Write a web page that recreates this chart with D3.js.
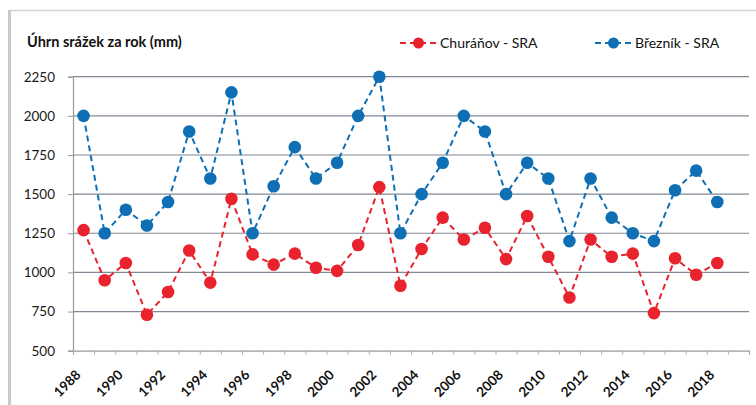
<!DOCTYPE html>
<html><head><meta charset="utf-8">
<script src="https://cdn.jsdelivr.net/npm/d3@7/dist/d3.min.js"></script>
<style>
html,body{margin:0;padding:0;background:#fff;}
svg{display:block;font-family:Lato,"Open Sans",sans-serif;}
</style></head>
<body>
<svg id="chart" width="756" height="405"></svg>
<script>
const years = d3.range(1988, 2019);
const churanov = [1270, 950, 1060, 730, 875, 1140, 935, 1470, 1115, 1050, 1120, 1030, 1010, 1175, 1545, 915, 1150, 1350, 1210, 1285, 1085, 1360, 1100, 840, 1210, 1100, 1120, 740, 1090, 985, 1060];
const breznik = [2000, 1250, 1400, 1300, 1450, 1900, 1600, 2150, 1250, 1550, 1800, 1600, 1700, 2000, 2250, 1250, 1500, 1700, 2000, 1900, 1500, 1700, 1600, 1200, 1600, 1350, 1250, 1200, 1525, 1650, 1450];
const yTicks = [500, 750, 1000, 1250, 1500, 1750, 2000, 2250];
const xLabels = d3.range(1988, 2019, 2);
const seriesNames = ["Churáňov - SRA", "Březník - SRA"];
const title = "Úhrn srážek za rok (mm)";

const svg = d3.select("#chart");
const C = {red: "#e8232e", blue: "#0f6fb5", grid: "#7f8893", axis: "#9a9a9a"};

// outer frame
svg.append("line").attr("x1", 10).attr("x2", 756).attr("y1", 10.5).attr("y2", 10.5).attr("stroke", "#d4d4d4").attr("stroke-width", 1.5);
svg.append("rect").attr("x", 8).attr("y", 10).attr("width", 3).attr("height", 395).attr("fill", "#c9c9c9");

const x = d3.scaleLinear().domain([1987.5, 2019.5]).range([73, 749]);
const y = d3.scaleLinear().domain([500, 2250]).range([350.7, 76.7]);

// gridlines
svg.append("g").selectAll("line").data(yTicks.filter(v => v > 500)).join("line")
  .attr("x1", 73).attr("x2", 749).attr("y1", d => y(d)).attr("y2", d => y(d))
  .attr("stroke", C.grid).attr("stroke-width", 1.2);

// y axis
const yAxis = svg.append("g").attr("transform", "translate(73,0)")
  .call(d3.axisLeft(y).tickValues(yTicks).tickSize(5).tickPadding(13).tickFormat(d3.format("d")));
yAxis.select(".domain").attr("stroke", C.axis).attr("stroke-width", 1.2);
yAxis.selectAll(".tick line").attr("stroke", C.axis);
yAxis.selectAll("text").attr("font-size", 13.5).attr("fill", "#1a1a1a").attr("font-family", "Lato, sans-serif");

// x axis
const xAxis = svg.append("g").attr("transform", `translate(0,${y(500)})`)
  .call(d3.axisBottom(x).tickValues(d3.range(1987.5, 2020, 1)).tickSize(4).tickFormat(""));
xAxis.select(".domain").attr("stroke", C.axis).attr("stroke-width", 1.2);
xAxis.selectAll(".tick line").attr("stroke", "#b0b0b0");

svg.append("g").selectAll("text").data(xLabels).join("text")
  .attr("transform", d => `translate(${x(d) - 2},${y(500) + 25}) rotate(-45)`)
  .attr("text-anchor", "end")
  .attr("font-size", 13.5).attr("font-weight", "bold").attr("fill", "#111")
  .text(d => d);

// series
const series = [
  {name: seriesNames[0], values: churanov, color: C.red},
  {name: seriesNames[1], values: breznik, color: C.blue}
];
const line = d3.line().x(d => x(d[0])).y(d => y(d[1]));
series.forEach(s => {
  const pts = years.map((yr, i) => [yr, s.values[i]]);
  svg.append("path").datum(pts).attr("d", line).attr("fill", "none")
    .attr("stroke", s.color).attr("stroke-width", 2).attr("stroke-dasharray", "6,4");
  svg.append("g").selectAll("circle").data(pts).join("circle")
    .attr("cx", d => x(d[0])).attr("cy", d => y(d[1])).attr("r", 6.3)
    .attr("fill", s.color);
});

// title
svg.append("text").attr("x", 27).attr("y", 47).attr("font-size", 14.5).attr("font-weight", "bold")
  .attr("fill", "#111").text(title);

// legend
const legendPos = [{lx: 400, tx: 440}, {lx: 595, tx: 635}];
series.forEach((s, i) => {
  const g = svg.append("g");
  const p = legendPos[i];
  g.append("line").attr("x1", p.lx).attr("x2", p.lx + 37).attr("y1", 43).attr("y2", 43)
    .attr("stroke", s.color).attr("stroke-width", 2).attr("stroke-dasharray", "6,4");
  g.append("circle").attr("cx", p.lx + 18.5).attr("cy", 43).attr("r", 5.5).attr("fill", s.color);
  g.append("text").attr("x", p.tx).attr("y", 48).attr("font-size", 14).attr("fill", "#111").text(s.name);
});
</script>
</body></html>
